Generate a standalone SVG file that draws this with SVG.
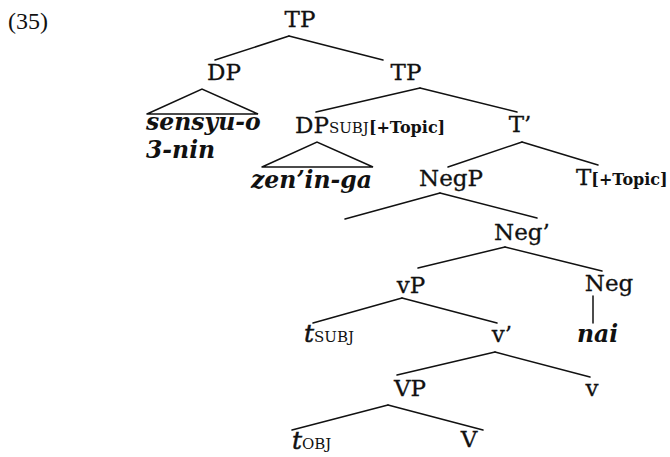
<svg xmlns="http://www.w3.org/2000/svg" width="670" height="457" viewBox="0 0 670 457">
  <style>
    .lbl { font-family: "DejaVu Serif", "Liberation Serif", serif; font-size: 23px; fill: #111; stroke: #111; stroke-width: 0.3px; }
    .mid { text-anchor: middle; }
    .jp { font-family: "DejaVu Serif", "Liberation Serif", serif; font-size: 23.5px; font-weight: bold; font-style: italic; fill: #111; }
    .sub { font-family: "DejaVu Serif", "Liberation Serif", serif; font-size: 15px; font-style: normal; font-weight: normal; }
    .feat { font-family: "DejaVu Serif", "Liberation Serif", serif; font-size: 16px; font-weight: bold; }
    .tr { font-family: "DejaVu Serif", "Liberation Serif", serif; font-size: 25px; font-style: italic; fill: #111; stroke: #111; stroke-width: 0.5px; }
    .edge { stroke: #111; stroke-width: 1.5; fill: none; stroke-linecap: round; }
  </style>
  <rect width="670" height="457" fill="#ffffff"/>

  <text x="8" y="29" style="font-family:'Liberation Serif',serif;font-size:24px;fill:#111">(35)</text>

  <g id="connectors">
    <!-- TP (root) -->
    <line class="edge" x1="289" y1="36" x2="215" y2="60"/>
    <line class="edge" x1="289" y1="36" x2="383" y2="60"/>
    <!-- DP triangle -->
    <polyline class="edge" points="147,114 202,89 258,114 147,114"/>
    <!-- TP -->
    <line class="edge" x1="420" y1="88" x2="316" y2="112"/>
    <line class="edge" x1="420" y1="88" x2="517" y2="112"/>
    <!-- DP subject triangle -->
    <polyline class="edge" points="262,167 317,142 373,167 262,167"/>
    <!-- T' -->
    <line class="edge" x1="522" y1="142" x2="448" y2="167"/>
    <line class="edge" x1="522" y1="142" x2="598" y2="165"/>
    <!-- NegP -->
    <line class="edge" x1="440" y1="193" x2="345" y2="219"/>
    <line class="edge" x1="440" y1="193" x2="537" y2="218"/>
    <!-- Neg' -->
    <line class="edge" x1="505" y1="247" x2="418" y2="268"/>
    <line class="edge" x1="505" y1="247" x2="602" y2="271"/>
    <!-- Neg -->
    <line class="edge" x1="593" y1="296" x2="593" y2="323"/>
    <!-- vP -->
    <line class="edge" x1="402" y1="298" x2="313" y2="323"/>
    <line class="edge" x1="402" y1="298" x2="497" y2="323"/>
    <!-- v' -->
    <line class="edge" x1="495" y1="352" x2="397" y2="375"/>
    <line class="edge" x1="495" y1="352" x2="590" y2="377"/>
    <!-- VP -->
    <line class="edge" x1="388" y1="405" x2="292" y2="430"/>
    <line class="edge" x1="388" y1="405" x2="483" y2="430"/>
  </g>

  <g id="tp-root"><text class="lbl mid" x="300" y="27">TP</text></g>
  <g id="dp-obj"><text class="lbl mid" x="224" y="80">DP</text></g>
  <g id="dp-obj-words">
    <text class="jp" x="146" y="130">sensyu-o</text>
    <text class="jp" x="146" y="158">3-nin</text>
  </g>
  <g id="tp"><text class="lbl mid" x="406" y="80">TP</text></g>
  <g id="dp-subj"><text class="lbl" x="295" y="133">DP<tspan class="sub" stroke-width="0">SUBJ</tspan><tspan class="feat" stroke-width="0">[+Topic]</tspan></text></g>
  <g id="dp-subj-words"><text class="jp" x="251" y="188">zen’in-ga</text></g>
  <g id="t-bar"><text class="lbl mid" x="520" y="132">T’</text></g>
  <g id="negp"><text class="lbl mid" x="451" y="186">NegP</text></g>
  <g id="t-head"><text class="lbl" x="576" y="185">T<tspan class="feat" stroke-width="0">[+Topic]</tspan></text></g>
  <g id="neg-bar"><text class="lbl mid" x="522" y="240">Neg’</text></g>
  <g id="vp-small"><text class="lbl mid" x="411" y="293">vP</text></g>
  <g id="neg"><text class="lbl mid" x="609" y="291">Neg</text></g>
  <g id="t-subj"><text class="tr" x="304" y="342">t<tspan class="sub" stroke-width="0">SUBJ</tspan></text></g>
  <g id="v-bar"><text class="lbl mid" x="502" y="342">v’</text></g>
  <g id="nai"><text class="jp" x="577" y="342">nai</text></g>
  <g id="vp-big"><text class="lbl mid" x="410" y="396">VP</text></g>
  <g id="v-head"><text class="lbl mid" x="592" y="396">v</text></g>
  <g id="t-obj"><text class="tr" x="292" y="449">t<tspan class="sub" stroke-width="0">OBJ</tspan></text></g>
  <g id="v-verb"><text class="lbl mid" x="469" y="447">V</text></g>
</svg>
